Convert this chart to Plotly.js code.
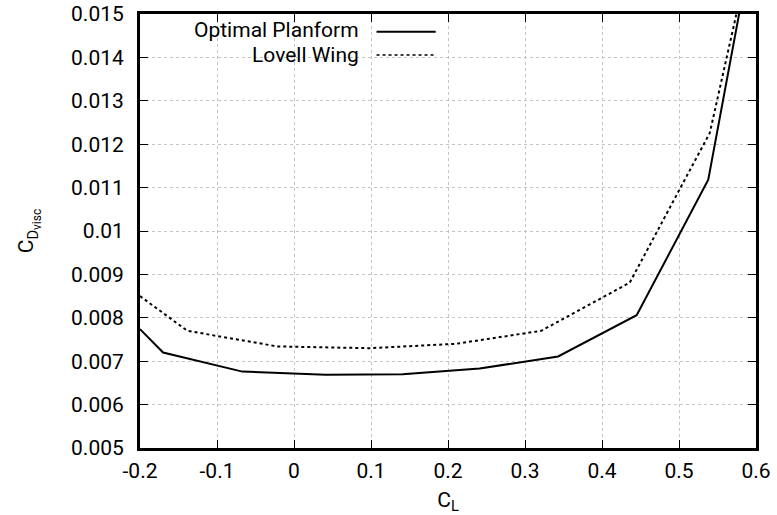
<!DOCTYPE html>
<html>
<head>
<meta charset="utf-8">
<script src="https://cdn.plot.ly/plotly-3.0.1.min.js"></script>
<style>html,body{margin:0;padding:0;background:#fff;}#chart{width:777px;height:515px;}</style>
</head>
<body>
<div id="chart"></div>
<script>
// Data
const optimalCL = [-0.2, -0.170, -0.067, 0.041, 0.141, 0.241, 0.343, 0.445, 0.538, 0.62];
const optimalCD = [0.00774, 0.00720, 0.00676, 0.00669, 0.00670, 0.00683, 0.00711, 0.00806, 0.01118, 0.0190];
const lovellCL = [-0.2, -0.1385, -0.0215, 0.098, 0.21, 0.321, 0.436, 0.540, 0.63];
const lovellCD = [0.00850, 0.00770, 0.00734, 0.00730, 0.00740, 0.00770, 0.00881, 0.01226, 0.0194];
const seriesNames = ['Optimal Planform', 'Lovell Wing'];
const xTickVals = [-0.2, -0.1, 0, 0.1, 0.2, 0.3, 0.4, 0.5, 0.6];
const xTickText = ['-0.2', '-0.1', '0', '0.1', '0.2', '0.3', '0.4', '0.5', '0.6'];
const yTickVals = [0.005, 0.006, 0.007, 0.008, 0.009, 0.01, 0.011, 0.012, 0.013, 0.014, 0.015];
const yTickText = ['0.005', '0.006', '0.007', '0.008', '0.009', '0.01', '0.011', '0.012', '0.013', '0.014', '0.015'];

const FONT = 'Roboto, "Liberation Sans", sans-serif';
const FS = 21;

const traces = [
  {x: optimalCL, y: optimalCD, mode: 'lines', name: seriesNames[0],
   line: {color: '#000', width: 2, dash: 'solid'}, showlegend: false},
  {x: lovellCL, y: lovellCD, mode: 'lines', name: seriesNames[1],
   line: {color: '#000', width: 2, dash: 'dot'}, showlegend: false}
];

const axisCommon = {
  showline: true, linecolor: '#000', linewidth: 3, mirror: 'allticks',
  ticks: 'inside', ticklen: 8, tickwidth: 1, tickcolor: '#000',
  showgrid: true, gridcolor: '#c4c4c4', gridwidth: 1, griddash: 'dot',
  zeroline: false, tickfont: {family: FONT, size: FS, color: '#000'},
  tickmode: 'array'
};

const layout = {
  width: 777, height: 515,
  margin: {l: 140, r: 21, t: 14, b: 67},
  paper_bgcolor: '#fff', plot_bgcolor: '#fff',
  font: {family: FONT, color: '#000'},
  xaxis: Object.assign({}, axisCommon, {
    range: [-0.2, 0.6], tickvals: xTickVals, ticktext: xTickText, ticklabelstandoff: 2,
    title: {text: 'C<sub>L</sub>', font: {family: FONT, size: FS, color: '#000'}, standoff: 12}
  }),
  yaxis: Object.assign({}, axisCommon, {
    range: [0.005, 0.015], tickvals: yTickVals, ticktext: yTickText, ticklabelstandoff: 9,
    title: {text: 'C<sub>D<sub><span style="font-size:12px">visc</span></sub></sub>',
            font: {family: FONT, size: FS, color: '#000'}, standoff: 32}
  }),
  shapes: [
    {type: 'rect', xref: 'paper', yref: 'paper', x0: 0.003, x1: 0.499, y0: 0.88, y1: 0.997,
     fillcolor: '#fff', line: {width: 0}, layer: 'between'},
    {type: 'line', xref: 'paper', yref: 'paper', x0: 0.384, x1: 0.480, y0: 0.959, y1: 0.959,
     line: {color: '#000', width: 2, dash: 'solid'}},
    {type: 'line', xref: 'paper', yref: 'paper', x0: 0.384, x1: 0.480, y0: 0.9055, y1: 0.9055,
     line: {color: '#000', width: 1.5, dash: 'dot'}}
  ],
  annotations: [
    {xref: 'paper', yref: 'paper', x: 0.359, y: 0.962, xanchor: 'right', yanchor: 'middle',
     text: seriesNames[0], showarrow: false, font: {family: FONT, size: FS, color: '#000'}},
    {xref: 'paper', yref: 'paper', x: 0.359, y: 0.906, xanchor: 'right', yanchor: 'middle',
     text: seriesNames[1], showarrow: false, font: {family: FONT, size: FS, color: '#000'}}
  ]
};

Plotly.newPlot('chart', traces, layout, {displayModeBar: false, staticPlot: true});
</script>
</body>
</html>
